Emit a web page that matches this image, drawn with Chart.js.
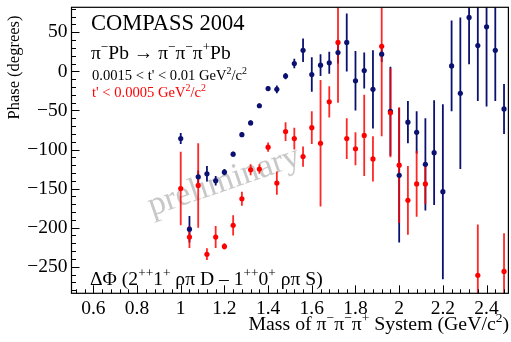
<!DOCTYPE html>
<html><head><meta charset="utf-8">
<script src="https://cdn.jsdelivr.net/npm/chart.js@4"></script>
<style>html,body{margin:0;padding:0;background:#fff;overflow:hidden}</style>
</head><body>
<canvas id="c" width="511" height="342"></canvas>
<script>
// ---- data ----
const MASS = [1.00,1.04,1.08,1.12,1.16,1.20,1.24,1.28,1.32,1.36,1.40,1.44,1.48,1.52,1.56,1.60,1.64,1.68,1.72,1.76,1.80,1.84,1.88,1.92,1.96,2.00,2.04,2.08,2.12,2.16,2.20,2.24,2.28,2.32,2.36,2.40,2.44,2.48];
// 0.0015 < t' < 0.01 GeV^2/c^2 (navy)
const PHASE_T1 = [-86,-202,-135,-131,-140,-129,-106,-81,-66,-44,-22,-23,-6,10,27,-4,8,11,24,37,-12,1,-23,22,-51,-133,-65,-78,-119,-104,-154,7,-28,69,33,57,27,-48];
const ERR_T1   = [7,17,8,10,6,4,3,3,3,3,3,5,4,6,15,22,14,14,14,37,38,23,50,10,57,86,27,27,59,67,112,58,97,60,71,102,65,32];
// t' < 0.0005 GeV^2/c^2 (red)
const PHASE_T2 = [-150,-212,-146,-234,-212,-224,-197,-163,-126,-125,-97,-143,-77,-86,-109,-72,-92,-39,37,-86,-99,-82,-112,32,-53,-120,-165,-144,-144,null,null,null,null,null,-261,null,null,-256];
const ERR_T2   = [47,14,54,7.5,14,4,13,9,7,6,6,15,12,14,13,21,81,20,77,26,21,52,29,115,57,74,44,42,26,null,null,null,null,null,65,null,null,49];
const X_TICKS = [0.6,0.8,1.0,1.2,1.4,1.6,1.8,2.0,2.2,2.4];
const Y_TICKS = [-250,-200,-150,-100,-50,0,50];
const X_RANGE = [0.5, 2.5];
const Y_RANGE = [-284, 82];

const NAVY = '#0b1170';
const RED = '#ff0000';
const SERIF = '"Liberation Serif", "Times New Roman", serif';

function pts(ph, er) {
  const out = [];
  MASS.forEach((m, i) => { if (ph[i] !== null) out.push({x: m, y: ph[i], e: er[i]}); });
  return out;
}

function drawRich(ctx, x, y, parts, size, color, align) {
  const f = s => s + 'px ' + SERIF;
  let w = 0;
  parts.forEach(([t, sup]) => { ctx.font = f(sup ? size * 0.68 : size); w += ctx.measureText(t).width; });
  if (align === 'right') x -= w;
  ctx.fillStyle = color;
  ctx.textBaseline = 'alphabetic';
  ctx.textAlign = 'left';
  parts.forEach(([t, sup]) => {
    ctx.font = f(sup ? size * 0.68 : size);
    ctx.fillText(t, x, sup ? y - size * 0.4 : y);
    x += ctx.measureText(t).width;
  });
}

const decor = {
  id: 'decor',
  beforeDatasetsDraw(chart) {
    const {ctx, chartArea: a, scales: {x, y}} = chart;
    ctx.save();
    ctx.beginPath(); ctx.rect(a.left, a.top, a.right - a.left, a.bottom - a.top); ctx.clip();
    // watermark
    ctx.save();
    ctx.translate(152, 216);
    ctx.rotate(-19 * Math.PI / 180);
    ctx.font = '34px ' + SERIF;
    ctx.fillStyle = '#c8c8c8';
    ctx.textBaseline = 'alphabetic';
    ctx.fillText('preliminary', 0, 0);
    ctx.restore();
    // error bars
    chart.data.datasets.slice().sort((p, q) => q.order - p.order).forEach(ds => {
      ctx.strokeStyle = ds.errColor;
      ctx.lineWidth = 1.8;
      ds.data.forEach(p => {
        const px = x.getPixelForValue(p.x);
        ctx.beginPath();
        ctx.moveTo(px, y.getPixelForValue(p.y - p.e));
        ctx.lineTo(px, y.getPixelForValue(p.y + p.e));
        ctx.stroke();
      });
    });
    ctx.restore();
  },
  afterDraw(chart) {
    const {ctx, chartArea: a, scales: {x, y}} = chart;
    ctx.save();
    ctx.strokeStyle = '#000';
    ctx.lineWidth = 1.2;
    ctx.strokeRect(a.left, a.top, a.right - a.left, a.bottom - a.top);
    // ticks (inward)
    ctx.lineWidth = 1;
    ctx.beginPath();
    for (let v = 0.52; v < 2.5; v += 0.04) {
      const major = X_TICKS.some(t => Math.abs(t - v) < 1e-6);
      const px = Math.round(x.getPixelForValue(v)) + 0.5;
      ctx.moveTo(px, a.bottom); ctx.lineTo(px, a.bottom - (major ? 8 : 4));
    }
    for (let v = -280; v <= 80; v += 10) {
      const major = Y_TICKS.includes(v);
      const py = Math.round(y.getPixelForValue(v)) + 0.5;
      ctx.moveTo(a.left, py); ctx.lineTo(a.left + (major ? 8 : 4.5), py);
    }
    ctx.stroke();
    // texts
    drawRich(ctx, 91, 29.5, [['COMPASS 2004', false]], 22.5, '#000');
    drawRich(ctx, 91, 58.5, [['\u03c0', false], ['\u2212', true], ['Pb \u2192 \u03c0', false], ['\u2212', true], ['\u03c0', false], ['\u2212', true], ['\u03c0', false], ['+', true], ['Pb', false]], 19.5, '#000');
    drawRich(ctx, 92, 79.5, [["0.0015 < t' < 0.01 GeV", false], ['2', true], ['/c', false], ['2', true]], 14.6, '#000');
    drawRich(ctx, 92, 97, [["t' < 0.0005 GeV", false], ['2', true], ['/c', false], ['2', true]], 14.6, RED);
    drawRich(ctx, 90, 285, [['\u0394\u03a6 (2', false], ['++', true], ['1', false], ['+', true], [' \u03c1\u03c0 D \u2013 1', false], ['++', true], ['0', false], ['+', true], [' \u03c1\u03c0 S)', false]], 19.6, '#000');
    drawRich(ctx, 509, 330, [['Mass of \u03c0', false], ['\u2212', true], ['\u03c0', false], ['\u2212', true], ['\u03c0', false], ['+', true], [' System (GeV/c', false], ['2', true], [')', false]], 19.8, '#000', 'right');
    ctx.restore();
  }
};

new Chart(document.getElementById('c'), {
  type: 'scatter',
  data: {
    datasets: [
      { label: "0.0015 < t' < 0.01 GeV\u00b2/c\u00b2", data: pts(PHASE_T1, ERR_T1), order: 2,
        backgroundColor: NAVY, borderColor: NAVY, errColor: NAVY, pointRadius: 2.6, pointBorderWidth: 0, pointHoverRadius: 2.6 },
      { label: "t' < 0.0005 GeV\u00b2/c\u00b2", data: pts(PHASE_T2, ERR_T2), order: 1,
        backgroundColor: RED, borderColor: RED, errColor: 'rgba(255,0,0,0.85)', pointRadius: 2.6, pointBorderWidth: 0, pointHoverRadius: 2.6 }
    ]
  },
  options: {
    responsive: false, animation: false, devicePixelRatio: 1,
    layout: { padding: { top: 7.3, right: 1.5, left: 0, bottom: 0 } },
    plugins: { legend: { display: false }, tooltip: { enabled: false } },
    scales: {
      x: {
        type: 'linear', min: X_RANGE[0], max: X_RANGE[1],
        grid: { display: false, drawTicks: false }, border: { display: false },
        afterBuildTicks: s => { s.ticks = X_TICKS.map(v => ({ value: v })); },
        afterFit: s => { s.height = 48.7; s.paddingLeft = 0; s.paddingRight = 0; },
        ticks: { color: '#000', font: { family: SERIF, size: 19.5 }, padding: 4, maxRotation: 0, autoSkip: false,
          callback: v => String(Math.round(v * 10) / 10) }
      },
      y: {
        type: 'linear', min: Y_RANGE[0], max: Y_RANGE[1],
        grid: { display: false, drawTicks: false }, border: { display: false },
        afterBuildTicks: s => { s.ticks = Y_TICKS.map(v => ({ value: v })); },
        afterFit: s => { s.width = 71.5; s.paddingTop = 0; s.paddingBottom = 0; },
        ticks: { color: '#000', font: { family: SERIF, size: 19.5 }, padding: 4, autoSkip: false,
          callback: v => String(v).replace('-', '\u2212') },
        title: { display: true, text: 'Phase (degrees)\u00a0\u00a0', align: 'end', color: '#000',
          font: { family: SERIF, size: 16.5 }, padding: { top: 5, bottom: 0 } }
      }
    }
  },
  plugins: [decor]
});
</script>
</body></html>
